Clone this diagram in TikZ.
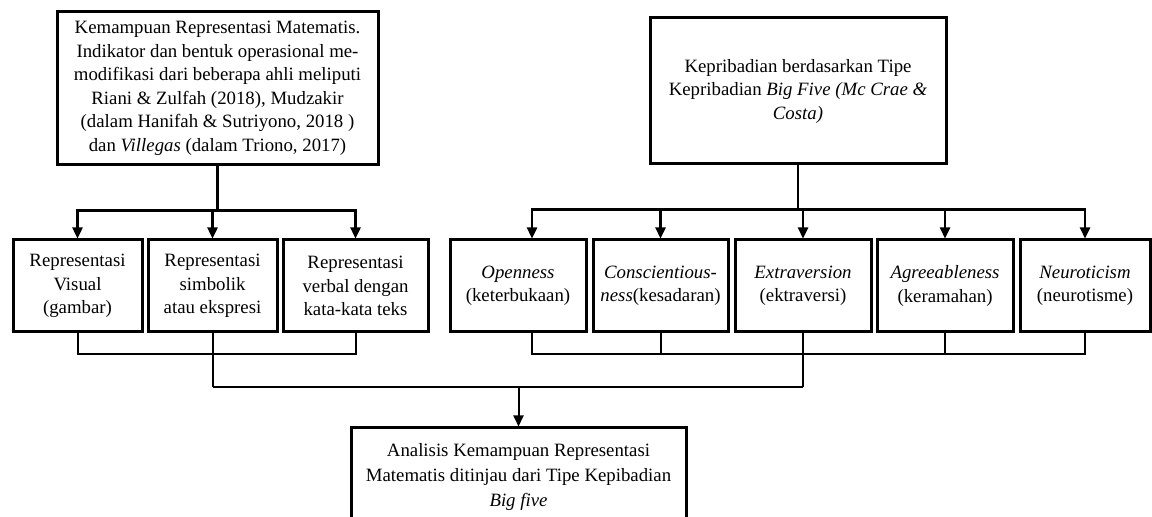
\documentclass[tikz,border=0pt]{standalone}
\usepackage{fontspec}
\setmainfont{Liberation Serif}
\usetikzlibrary{arrows.meta}

\begin{document}
\begin{tikzpicture}[x=0.5pt, y=-0.5pt,
    box/.style={draw, line width=1.5pt, align=center, inner sep=0pt,
        font=\fontsize{9.4}{11.75}\selectfont},
    smallbox/.style={box, minimum height=46pt},
    line/.style={line width=1.2pt},
    thinline/.style={line width=1pt},
    >={Triangle[width=5pt, length=5.5pt]}]
    \useasboundingbox (0,0) rectangle (1152,517);
    \clip (0,0) rectangle (1152,517);

    \node[box, minimum width=160.5pt, minimum height=76.5pt] (rep) at (217.5,88.5)
        {Kemampuan Representasi Matematis.\\ Indikator dan bentuk operasional me-\\
         modifikasi dari beberapa ahli meliputi\\ Riani \& Zulfah (2018), Mudzakir\\
         (dalam Hanifah \& Sutriyono, 2018 )\\ dan \textit{Villegas} (dalam Triono, 2017)};
    \node[box, minimum width=148pt, minimum height=73pt] (kep) at (798,91)
        {Kepribadian berdasarkan Tipe\\ Kepribadian \textit{Big Five (Mc Crae \&}\\ \textit{Costa)}};

    \node[smallbox, minimum width=64.5pt] (vis) at (77.5,286) {Representasi\\ Visual\\ (gambar)};
    \node[smallbox, minimum width=64.5pt] (sym) at (212.5,286) {Representasi\\ simbolik\\ atau ekspresi};
    \node[smallbox, minimum width=72.5pt] (verb) at (355.5,286) {Representasi\\ verbal dengan\\ kata-kata teks};

    \node[smallbox, minimum width=68pt] (open) at (518,286) {\textit{Openness}\\ (keterbukaan)};
    \node[smallbox, minimum width=67.5pt] (cons) at (660.5,286) {\textit{Conscientious-}\\ \textit{ness}(kesadaran)};
    \node[smallbox, minimum width=68pt] (ext) at (803,286) {\textit{Extraversion}\\ (ektraversi)};
    \node[smallbox, minimum width=68pt] (agree) at (945,286) {\textit{Agreeableness}\\ (keramahan)};
    \node[smallbox, minimum width=65pt] (neuro) at (1085,286) {\textit{Neuroticism}\\ (neurotisme)};

    \node[box, minimum width=167.5pt, minimum height=49pt,
        font=\fontsize{9.4}{12.5}\selectfont] (ana) at (518.5,477)
        {Analisis Kemampuan Representasi\\ Matematis ditinjau dari Tipe Kepibadian\\ \textit{Big five}};

    % branches down
    \draw[line] (rep.south) -- ++(0,44) coordinate (lsplit);
    \draw[line, ->] (lsplit) -| (vis.north);
    \draw[line, ->] (lsplit) -| (sym.north);
    \draw[line, ->] (lsplit) -| (verb.north);

    \draw[line] (kep.south) -- ++(0,44) coordinate (rsplit);
    \draw[line, ->] (rsplit) -| ([xshift=7pt]open.north);
    \draw[line, ->] (rsplit) -| (cons.north);
    \draw[line, ->] (rsplit) -| (ext.north);
    \draw[line, ->] (rsplit) -| (agree.north);
    \draw[line, ->] (rsplit) -| (neuro.north);

    % joining up
    \draw[thinline] (vis.south) -- ++(0,21) -| (verb.south);
    \draw[thinline] (sym.south) -- ++(0,54) coordinate (ljoin);
    \draw[thinline] ([xshift=7pt]open.south) -- ++(0,21) -| (neuro.south);
    \draw[thinline] (cons.south) -- ++(0,21);
    \draw[thinline] (agree.south) -- ++(0,21);
    \draw[thinline] (ext.south) -- ++(0,54) coordinate (rjoin);
    \draw[thinline] (ljoin) -- (rjoin);
    \draw[thinline, ->] (ana.north |- ljoin) -- (ana.north);
\end{tikzpicture}
\end{document}
